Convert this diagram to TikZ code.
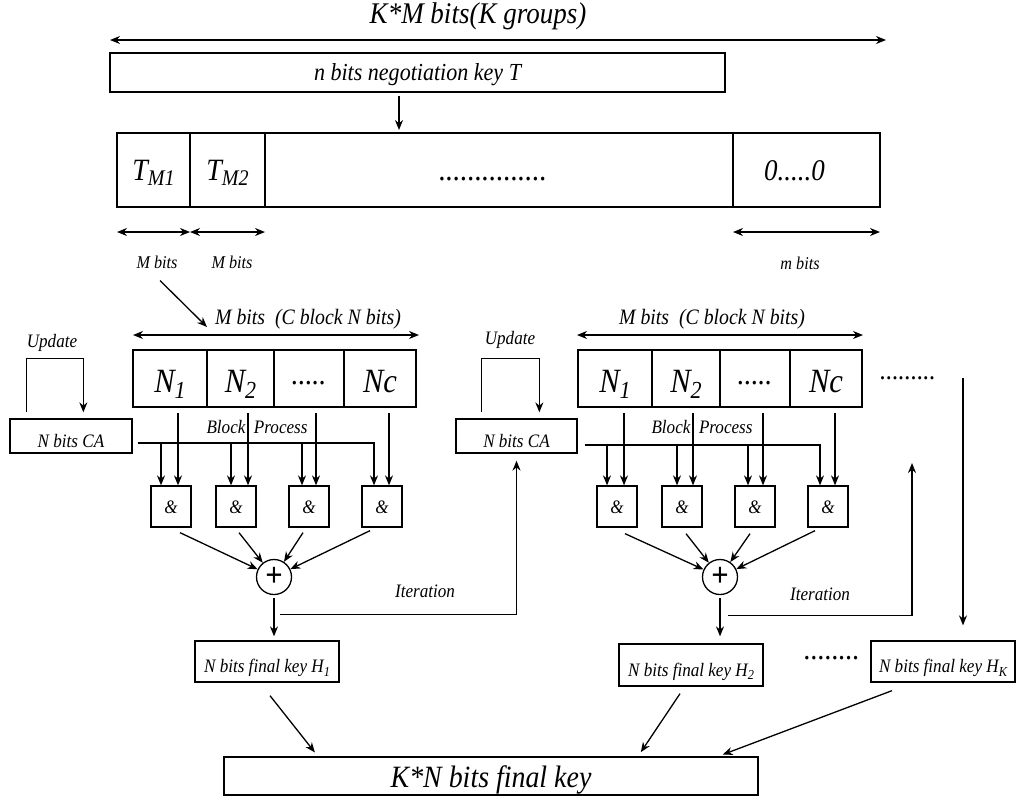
\documentclass[tikz,border=0pt]{standalone}
\usepackage{fontspec}
\setmainfont{Liberation Serif}[FakeStretch=0.9]
\usetikzlibrary{arrows.meta,positioning}
\newcommand{\fsz}[1]{\fontsize{#1}{#1}\selectfont\itshape}
\newcommand{\lsub}[1]{\raisebox{-0.4ex}{\scalebox{0.72}{#1}}}
\tikzset{
  field/.style ={draw, line width=1.3pt, outer sep=0pt, inner sep=0pt, minimum height=74pt,
                 text height=20pt, text depth=0pt, font=\fsz{31}},
  cell/.style  ={draw, line width=1.3pt, outer sep=0pt, inner sep=0pt, minimum height=57pt,
                 text height=27pt, text depth=0pt, font=\fsz{34}},
  blk/.style   ={draw, line width=1.3pt, inner sep=0pt, text height=22pt, text depth=0pt, font=\fsz{19}},
  andbox/.style={draw, line width=1.3pt, inner sep=0pt, minimum width=40pt, minimum height=41pt,
                 text height=13pt, text depth=0pt, font=\fsz{19}},
  xorbox/.style={draw, circle, line width=1.3pt, inner sep=0pt, minimum size=35pt, font=\bfseries\fontsize{34}{34}\selectfont},
  lbl/.style   ={inner sep=0pt, font=\fsz{19}},
  arrow/.style ={-{Stealth[length=10pt,width=8pt]}, line width=1.3pt},
  darrow/.style={{Stealth[length=10pt,width=8pt]}-{Stealth[length=10pt,width=8pt]}, line width=1.3pt},
}

\begin{document}
\begin{tikzpicture}[x=1pt, y=-1pt]
  \useasboundingbox (0,0) rectangle (1016,796);
  % negotiation key and its M-bit split
  \coordinate (kmL) at (110,40); \coordinate (kmR) at (886,40);
  \draw[darrow] (kmL) -- (kmR);
  \node[lbl, font=\fsz{30}] (kmlab) at (478,16) {K*M bits(K groups)};
  \node[blk, minimum width=615pt, minimum height=39pt, text height=15pt, font=\fsz{24.5}] (T) at (417.5,72.5) {n bits negotiation key T};
  \node[field, minimum width=73pt, anchor=west] (tm1) at (117,170) {T\lsub{M1}};
  \node[field, minimum width=75pt, right=0pt of tm1] (tm2) {T\lsub{M2}};
  \node[field, minimum width=468pt, right=0pt of tm2, font=\fsz{32}] (tdots) {...............\hspace*{12pt}};
  \node[field, minimum width=147pt, right=0pt of tdots, font=\fsz{30}] (tzero) {0.....0\hspace*{24pt}};
  \draw[arrow, shorten <=3pt, shorten >=3pt] (T.south -| 399,0) -- (tdots.north -| 399,0);
  \coordinate (mrow) at (0,232);
  \draw[darrow] (tm1.west |- mrow) -- (tm1.east |- mrow);
  \draw[darrow] (tm2.west |- mrow) -- (tm2.east |- mrow);
  \draw[darrow] (tzero.west |- mrow) -- (tzero.east |- mrow);
  \node[lbl, font=\fsz{18}] (mb1) at (157,262) {M bits};
  \node[lbl, font=\fsz{18}] (mb2) at (232,262) {M bits};
  \node[lbl, font=\fsz{18}] (mb3) at (800,263) {m bits};

  % first group
  \node[blk, minimum width=122pt, minimum height=34pt] (cA) at (71,436) {N bits CA};
  \node[cell, minimum width=74pt, anchor=west] (nA1) at (133,378.5) {N\lsub{1}};
  \node[cell, minimum width=67pt, right=0pt of nA1] (nA2) {N\lsub{2}};
  \node[cell, minimum width=70pt, right=0pt of nA2, font=\fsz{31}] (nA3) {\raisebox{8pt}{.....}};
  \node[cell, minimum width=72pt, right=0pt of nA3] (nA4) {Nc};
  \coordinate (gA1) at (133,335); \coordinate (gA2) at (419,335); \coordinate (dgA) at (207,327);
  \draw[darrow] (gA1) -- (gA2);
  \node[lbl, font=\fsz{22}] (gAlab) at (308,319) {M bits\ \ (C block N bits)};
  \draw[arrow] ([xshift=3pt,yshift=-12pt]mb1.south) -- (dgA);
  \draw[arrow] ([xshift=17pt,yshift=6pt]cA.north west) -- ++(0,-54) -| ([xshift=74pt,yshift=6pt]cA.north west);
  \node[lbl] (upA) at (52,343) {Update};
  \node[lbl] (bpA) at (257,427) {Block\ \ Process};
  \node[andbox] (aA1) at (171,506.5) {\&};
  \node[andbox] (aA2) at (236,506.5) {\&};
  \node[andbox] (aA3) at (309,506.5) {\&};
  \node[andbox] (aA4) at (382,506.5) {\&};
  \draw[arrow, shorten <=6pt] (nA1.south -| 178,0) -- (aA1.north -| 178,0);
  \draw[arrow, shorten <=6pt] (nA2.south -| 248,0) -- (aA2.north -| 248,0);
  \draw[arrow, shorten <=6pt] (nA3.south -| 316,0) -- (aA3.north -| 316,0);
  \draw[arrow, shorten <=6pt] (nA4.south -| 389,0) -- (aA4.north -| 389,0);
  \draw[arrow] ([xshift=5pt,yshift=-7pt]cA.east) -| (aA4.north -| 374,0);
  \draw[arrow] ([yshift=-7pt]cA.east -| 161,0) -- (aA1.north -| 161,0);
  \draw[arrow] ([yshift=-7pt]cA.east -| 231,0) -- (aA2.north -| 231,0);
  \draw[arrow] ([yshift=-7pt]cA.east -| 302,0) -- (aA3.north -| 302,0);
  \node[xorbox] (xA) at (274,577) {+};
  \draw[arrow] ([xshift=9pt,yshift=-5pt]aA1.south) -- (xA);
  \draw[arrow] ([xshift=3pt,yshift=-5pt]aA2.south) -- (xA);
  \draw[arrow] ([xshift=-6pt,yshift=-5pt]aA3.south) -- (xA);
  \draw[arrow] ([xshift=-12pt,yshift=-3pt]aA4.south) -- (xA);
  \node[blk, minimum width=144pt, minimum height=41pt] (hA) at (267,661.5) {N bits final key H\lsub{1}};
  \draw[arrow, shorten <=3pt, shorten >=4pt] (xA.south) -- (hA.north -| xA.south);

  % second group
  \node[blk, minimum width=121pt, minimum height=34pt] (cB) at (516.5,436) {N bits CA};
  \node[cell, minimum width=74pt, anchor=west] (nB1) at (578,378.5) {N\lsub{1}};
  \node[cell, minimum width=68pt, right=0pt of nB1] (nB2) {N\lsub{2}};
  \node[cell, minimum width=70pt, right=0pt of nB2, font=\fsz{31}] (nB3) {\raisebox{8pt}{.....}};
  \node[cell, minimum width=72pt, right=0pt of nB3] (nB4) {Nc};
  \coordinate (gB1) at (577,335); \coordinate (gB2) at (863,335);
  \draw[darrow] (gB1) -- (gB2);
  \node[lbl, font=\fsz{22}] (gBlab) at (712,319) {M bits\ \ (C block N bits)};
  \draw[arrow] ([xshift=26pt,yshift=6pt]cB.north west) -- ++(0,-54) -| ([xshift=84pt,yshift=6pt]cB.north west);
  \node[lbl] (upB) at (510,340) {Update};
  \node[lbl] (bpB) at (702,427) {Block\ \ Process};
  \node[andbox] (aB1) at (617,506.5) {\&};
  \node[andbox] (aB2) at (682,506.5) {\&};
  \node[andbox] (aB3) at (755,506.5) {\&};
  \node[andbox] (aB4) at (828,506.5) {\&};
  \draw[arrow, shorten <=6pt] (nB1.south -| 624,0) -- (aB1.north -| 624,0);
  \draw[arrow, shorten <=6pt] (nB2.south -| 693,0) -- (aB2.north -| 693,0);
  \draw[arrow, shorten <=6pt] (nB3.south -| 763,0) -- (aB3.north -| 763,0);
  \draw[arrow, shorten <=6pt] (nB4.south -| 835,0) -- (aB4.north -| 835,0);
  \draw[arrow] ([xshift=7pt,yshift=-9pt]cB.east) -| (aB4.north -| 820,0);
  \draw[arrow] ([yshift=-9pt]cB.east -| 607,0) -- (aB1.north -| 607,0);
  \draw[arrow] ([yshift=-9pt]cB.east -| 677,0) -- (aB2.north -| 677,0);
  \draw[arrow] ([yshift=-9pt]cB.east -| 748,0) -- (aB3.north -| 748,0);
  \node[xorbox] (xB) at (720,577) {+};
  \draw[arrow] ([xshift=8pt,yshift=-6pt]aB1.south) -- (xB);
  \draw[arrow] ([xshift=4pt,yshift=-6pt]aB2.south) -- (xB);
  \draw[arrow] ([xshift=-5pt,yshift=-6pt]aB3.south) -- (xB);
  \draw[arrow] ([xshift=-13pt,yshift=-3pt]aB4.south) -- (xB);
  \node[blk, minimum width=144pt, minimum height=42pt] (hB) at (691,665) {N bits final key H\lsub{2}};
  \draw[arrow, shorten <=3pt, shorten >=7pt] (xB.south) -- (hB.north -| xB.south);

  % iterations and the K-th group
  \draw[arrow, shorten >=7pt] ([xshift=6pt,yshift=-19pt]xA.south) -| (cB.south);
  \node[lbl] (itA) at (425,591) {Iteration};
  \coordinate (nxt) at (912,463);
  \draw[arrow] ([xshift=8pt,yshift=-20pt]xB.south) -| (nxt);
  \node[lbl] (itB) at (820,594) {Iteration};
  \node[lbl, font=\fsz{27.5}] (dotsB) at (908,378) {.........};
  \node[blk, minimum width=144pt, minimum height=41pt] (hK) at (943,661.5) {N bits final key H\lsub{K}};
  \node[lbl, font=\fsz{31}] (dotsH) at (832,658) {........};
  \coordinate (lnK) at (963,378);
  \draw[arrow, shorten >=15pt] (lnK) -- (hK.north -| lnK);

  % final key
  \node[blk, minimum width=534pt, minimum height=38pt, font=\fsz{31}] (fin) at (491,776) {K*N bits final key};
  \draw[arrow, shorten >=5pt] ([xshift=3pt,yshift=-13pt]hA.south) -- (fin.north -| 318,0);
  \draw[arrow, shorten >=5pt] ([xshift=-11pt,yshift=-7pt]hB.south) -- (fin.north -| 638,0);
  \draw[arrow, shorten >=5pt] ([xshift=-51pt,yshift=-8pt]hK.south) -- (fin.north -| 718,0);
\end{tikzpicture}
\end{document}
